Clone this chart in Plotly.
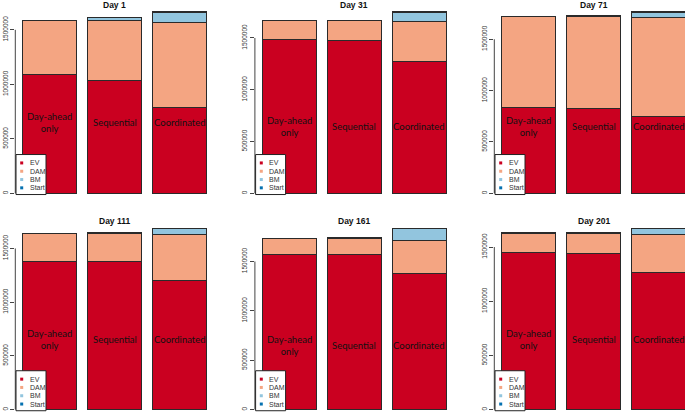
import plotly.graph_objects as go

# ---------------- data ----------------
CATEGORIES = ["Day-ahead only", "Sequential", "Coordinated"]
BAR_LABELS = ["Day-ahead<br>only", "Sequential", "Coordinated"]
DAYS = ["Day 1", "Day 31", "Day 71", "Day 111", "Day 161", "Day 201"]
COMPONENTS = ["EV", "DAM", "BM", "Start"]

# one row per day, one value per strategy (Day-ahead only, Sequential, Coordinated)
EV = [
    [1088000, 1039000, 789000],
    [1486000, 1477000, 1277000],
    [838000, 828000, 750000],
    [1379000, 1379000, 1206000],
    [1571000, 1568000, 1381000],
    [1454000, 1444000, 1268000],
]
DAM = [
    [497000, 545000, 783000],
    [180000, 189000, 380000],
    [882000, 889000, 964000],
    [261000, 264000, 428000],
    [163000, 166000, 336000],
    [175000, 185000, 352000],
]
BM = [
    [0, 27000, 88000],
    [0, 0, 90000],
    [0, 0, 49000],
    [0, 0, 52000],
    [0, 0, 116000],
    [0, 0, 50000],
]
START = [
    [3000, 6000, 5000],
    [3000, 6000, 5000],
    [3000, 14000, 4000],
    [3000, 8000, 4000],
    [3000, 12000, 6000],
    [3000, 7000, 5000],
]
TICK_VALUES = [0, 500000, 1000000, 1500000]
TICK_LABELS = ["0", "500000", "1000000", "1500000"]
LABEL_Y = 650000

COLORS = {"EV": "#CA0020", "DAM": "#F4A582", "BM": "#92C5DE", "Start": "#0571B0"}
SERIES = {"EV": EV, "DAM": DAM, "BM": BM, "Start": START}

# ---------------- layout geometry (pixels) ----------------
W, H = 685, 412
COL_LEFT = [15.3, 254.9, 494.3]
REGION_W = 198.9
ROW_TOP = [4.6, 220.8]
REGION_H = 196.0
XFULL = (-0.53, 2.53)


def pxx(p):
    return p / W


def pxy(p):
    return 1 - p / H


fig = go.Figure()
shapes = []
annotations = []
layout = {}

for i, day in enumerate(DAYS):
    r, c = divmod(i, 3)
    n = i + 1
    xa = "x" if n == 1 else f"x{n}"
    ya = "y" if n == 1 else f"y{n}"

    for comp in COMPONENTS:
        fig.add_trace(go.Bar(
            x=CATEGORIES, y=SERIES[comp][i], name=comp,
            marker=dict(color=COLORS[comp], line=dict(color="#2a2a2a", width=1)),
            xaxis=xa, yaxis=ya, showlegend=False, hoverinfo="skip",
        ))

    totals = [EV[i][k] + DAM[i][k] + BM[i][k] + START[i][k] for k in range(3)]
    M = max(totals)
    lo, hi = -0.04 * M, 1.04 * M

    left = COL_LEFT[c]
    right = left + REGION_W
    vis_right = min(right, W)
    x_hi = XFULL[0] + (vis_right - left) / REGION_W * (XFULL[1] - XFULL[0])

    top = ROW_TOP[r]
    bottom = top + REGION_H
    vis_bottom = min(bottom, H)
    y_lo = lo + (bottom - vis_bottom) / REGION_H * (hi - lo)
    zero_px = bottom - (0 - lo) / (hi - lo) * REGION_H

    key_x = "xaxis" if n == 1 else f"xaxis{n}"
    key_y = "yaxis" if n == 1 else f"yaxis{n}"
    layout[key_x] = dict(domain=[pxx(left), pxx(vis_right)], range=[XFULL[0], x_hi],
                         visible=False, anchor=ya, fixedrange=True, automargin=False)
    layout[key_y] = dict(domain=[pxy(vis_bottom), pxy(top)], range=[y_lo, hi],
                         anchor=xa, showgrid=False, zeroline=False, showline=False,
                         ticks="outside", ticklen=4, tickwidth=1, tickcolor="#444",
                         tickvals=TICK_VALUES, ticktext=TICK_LABELS, tickangle=-90,
                         tickfont=dict(family="Liberation Sans, Arial", size=6.5, color="#333"),
                         fixedrange=True, automargin=False)

    # axis line only spanning the ticks
    shapes.append(dict(type="line", xref="paper", yref=ya, x0=pxx(left), x1=pxx(left),
                       y0=TICK_VALUES[0], y1=TICK_VALUES[-1], line=dict(color="#444", width=1)))

    # title
    annotations.append(dict(text=f"<b>{day}</b>", xref="paper", yref="paper",
                            x=pxx(left + REGION_W / 2), y=pxy(top), xanchor="center",
                            yanchor="middle", showarrow=False,
                            font=dict(family="Liberation Sans, Arial", size=8.5, color="#111")))

    # bar labels
    for k, lab in enumerate(BAR_LABELS):
        annotations.append(dict(text=lab, xref=xa, yref=ya, x=CATEGORIES[k], y=LABEL_Y,
                                showarrow=False, xanchor="center", yanchor="middle",
                                font=dict(family="Lato, Open Sans", size=9.5, color="#111")))

    # legend box
    bl = left + 0.7
    bb = zero_px + 1.2
    bt = bb - 40
    shapes.append(dict(type="rect", xref="paper", yref="paper", x0=pxx(bl), x1=pxx(bl + 30),
                       y0=pxy(bb), y1=pxy(bt), fillcolor="white",
                       line=dict(color="#222", width=1)))
    for k, comp in enumerate(COMPONENTS):
        cy = bt + 8.4 + k * 8.3
        cx = bl + 5.7
        shapes.append(dict(type="rect", xref="paper", yref="paper",
                           x0=pxx(cx - 1.5), x1=pxx(cx + 1.5), y0=pxy(cy + 1.5), y1=pxy(cy - 1.5),
                           fillcolor=COLORS[comp], line=dict(width=0)))
        annotations.append(dict(text=comp, xref="paper", yref="paper", x=pxx(bl + 11.5),
                                y=pxy(cy), xanchor="left", yanchor="middle", showarrow=False,
                                font=dict(family="Liberation Sans, Arial", size=7, color="#333")))

fig.update_layout(
    width=W, height=H, margin=dict(l=0, r=0, t=0, b=0, autoexpand=False),
    barmode="stack", bargap=1 / 6,
    paper_bgcolor="white", plot_bgcolor="white",
    shapes=shapes, annotations=annotations, showlegend=False,
    **layout,
)

fig.write_html(
    "out.html",
    config={"displayModeBar": False, "staticPlot": True},
    post_script="document.body.style.margin='0';document.body.style.padding='0';"
                "document.body.style.overflow='hidden';",
)
